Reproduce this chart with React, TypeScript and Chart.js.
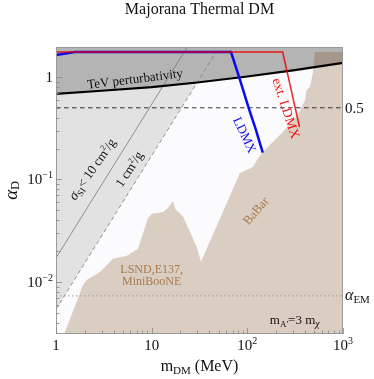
import React, { useEffect, useRef } from "react";
import { Chart, registerables } from "chart.js";
Chart.register(...registerables);

// ---- axis ranges ----
const xRange = [1, 1000];
const yRange = [0.0031, 1.96];

// ---- tick labels ----
const xTickValues = [1, 10, 100, 1000];
const xTickBase = ["1", "10", "10", "10"];
const xTickExp = ["", "", "2", "3"];
const yTickValues = [1, 0.1, 0.01];
const yTickBase = ["1", "10", "10"];
const yTickExp = ["", "\u22121", "\u22122"];

// ---- TeV perturbativity boundary ----
const tevMass = [1, 3, 10, 30, 100, 300, 1000];
const tevAlpha = [0.683, 0.733, 0.794, 0.883, 1.01, 1.16, 1.37];

// ---- self-interaction lines ----
const sidm10Mass = [1, 25];
const sidm10Alpha = [0.0171, 2.14];
const sidm1Mass = [1, 55];
const sidm1Alpha = [0.0054, 2.2];

// ---- LDMX projections ----
const ldmxMass = [1, 1.58, 67.5, 83.8, 104, 123, 134, 145];
const ldmxAlpha = [1.64, 1.75, 1.75, 0.935, 0.488, 0.304, 0.232, 0.183];
const extMass = [1, 234, 351];
const extAlpha = [1.75, 1.75, 0.325];

// ---- excluded region (LSND, E137, MiniBooNE, BaBar) ----
const exclMass = [1.22, 1.92, 2.11, 2.88, 3.94, 5.52, 7.2, 9.16, 10.1, 13.1, 14.8, 16.7, 17.7, 21.3, 25.2, 29.6, 32.8, 83.8, 114.6, 126, 142, 219, 339, 401, 415, 452, 486, 509, 1000];
const exclAlpha = [0.0031, 0.00935, 0.0105, 0.0125, 0.0168, 0.018, 0.021, 0.0421, 0.0461, 0.0482, 0.0527, 0.0617, 0.0515, 0.0431, 0.0307, 0.0219, 0.0157, 0.1157, 0.1324, 0.155, 0.1815, 0.272, 0.426, 0.597, 0.747, 0.799, 1.12, 1.75, 1.75];

// ---- reference lines ----
const halfAlpha = 0.5;
const alphaEM = 0.0073;

const pts = (xs: number[], ys: number[]) => xs.map((x, i) => ({ x, y: ys[i] }));

const SERIF = '"Liberation Serif", "DejaVu Serif", serif';
type Run = { t: string; s: number; dy?: number; it?: boolean };
const fontOf = (r: Run) => `${r.it ? "italic " : ""}${r.s}px ${SERIF}`;

function drawRuns(
  ctx: CanvasRenderingContext2D,
  runs: Run[],
  x: number,
  y: number,
  align: "left" | "center" | "right",
  color: string,
  angle = 0
) {
  ctx.save();
  ctx.translate(x, y);
  ctx.rotate((angle * Math.PI) / 180);
  let w = 0;
  for (const r of runs) {
    ctx.font = fontOf(r);
    w += ctx.measureText(r.t).width;
  }
  let cx = align === "center" ? -w / 2 : align === "right" ? -w : 0;
  ctx.fillStyle = color;
  ctx.textAlign = "left";
  ctx.textBaseline = "alphabetic";
  for (const r of runs) {
    ctx.font = fontOf(r);
    ctx.fillText(r.t, cx, r.dy || 0);
    cx += ctx.measureText(r.t).width;
  }
  ctx.restore();
}

const bgPlugin = {
  id: "bg",
  beforeDraw(chart: any) {
    const { ctx, chartArea: a } = chart;
    ctx.save();
    ctx.fillStyle = "#ffffff";
    ctx.fillRect(0, 0, chart.width, chart.height);
    ctx.fillStyle = "#fbfbfe";
    ctx.fillRect(a.left, a.top, a.right - a.left, a.bottom - a.top);
    ctx.restore();
  },
};

function rotated(
  ctx: CanvasRenderingContext2D,
  px: number,
  py: number,
  angle: number,
  runs: Run[],
  color: string,
  off = 4.5
) {
  ctx.save();
  ctx.translate(px, py);
  ctx.rotate((angle * Math.PI) / 180);
  drawRuns(ctx, runs, 0, off, "center", color);
  ctx.restore();
}

const decorPlugin = {
  id: "decor",
  afterDraw(chart: any) {
    const { ctx, chartArea: a } = chart;
    const xs = chart.scales.x;
    const ys = chart.scales.y;
    const X = (v: number) => xs.getPixelForValue(v);
    const Y = (v: number) => ys.getPixelForValue(v);

    // frame
    ctx.save();
    ctx.strokeStyle = "#9a9a9a";
    ctx.lineWidth = 1;
    ctx.strokeRect(a.left + 0.5, a.top + 0.5, a.right - a.left - 1, a.bottom - a.top - 1);

    // ticks
    ctx.strokeStyle = "#888";
    ctx.lineWidth = 0.8;
    ctx.beginPath();
    for (let d = -3; d <= 3; d++) {
      for (let k = 1; k <= 9; k++) {
        const v = k * Math.pow(10, d);
        const len = k === 1 ? 6 : 3.5;
        if (v >= xRange[0] && v <= xRange[1]) {
          const px = Math.round(X(v)) + 0.5;
          ctx.moveTo(px, a.bottom);
          ctx.lineTo(px, a.bottom - len);
        }
        if (v >= yRange[0] && v <= yRange[1]) {
          const py = Math.round(Y(v)) + 0.5;
          ctx.moveTo(a.left, py);
          ctx.lineTo(a.left + len, py);
        }
      }
    }
    ctx.stroke();
    ctx.restore();

    const black = "#111";
    // title
    drawRuns(ctx, [{ t: "Majorana Thermal DM", s: 16 }], (a.left + a.right) / 2, 14, "center", black);

    // x tick labels
    xTickValues.forEach((v, i) => {
      const runs: Run[] = [{ t: xTickBase[i], s: 15 }];
      if (xTickExp[i]) runs.push({ t: xTickExp[i], s: 10, dy: -6 });
      drawRuns(ctx, runs, X(v), 350, "center", black);
    });
    // y tick labels
    yTickValues.forEach((v, i) => {
      const runs: Run[] = [{ t: yTickBase[i], s: 15 }];
      if (yTickExp[i]) runs.push({ t: yTickExp[i], s: 10, dy: -6 });
      drawRuns(ctx, runs, a.left - 3, Y(v) + 5, "right", black);
    });

    // axis titles
    drawRuns(
      ctx,
      [
        { t: "m", s: 16 },
        { t: "DM", s: 11, dy: 3 },
        { t: " (MeV)", s: 16 },
      ],
      (a.left + a.right) / 2,
      371,
      "center",
      black
    );
    drawRuns(
      ctx,
      [
        { t: "\u03b1", s: 19, it: true },
        { t: "D", s: 12, dy: 2.5 },
      ],
      16.5,
      (a.top + a.bottom) / 2,
      "center",
      black,
      -90
    );

    // right side labels
    drawRuns(ctx, [{ t: "0.5", s: 15 }], a.right + 2, Y(halfAlpha) + 5, "left", black);
    drawRuns(
      ctx,
      [
        { t: "\u03b1", s: 16, it: true },
        { t: "EM", s: 11, dy: 3 },
      ],
      a.right + 2,
      Y(alphaEM) + 4,
      "left",
      black
    );

    // region labels
    rotated(ctx, X(6.7), Y(0.966), -7, [{ t: "TeV perturbativity", s: 13 }], black);
    rotated(
      ctx,
      X(2.38),
      Y(0.1266),
      -55,
      [
        { t: "\u03c3", s: 14, it: true },
        { t: "SI", s: 9, dy: 3 },
        { t: "< 10 cm", s: 13 },
        { t: "2", s: 8, dy: -5 },
        { t: "/g", s: 13 },
      ],
      black
    );
    rotated(
      ctx,
      X(5.8),
      Y(0.1266),
      -57,
      [
        { t: "1 cm", s: 13 },
        { t: "2", s: 8, dy: -5 },
        { t: "/g", s: 13 },
      ],
      black
    );
    rotated(ctx, X(94.6), Y(0.272), 65, [{ t: "LDMX", s: 13 }], "#1010e8");
    rotated(ctx, X(255), Y(0.495), 72, [{ t: "ext. LDMX", s: 13.5 }], "#f01010");

    const brown = "#a87b4e";
    rotated(ctx, X(123), Y(0.0493), -49, [{ t: "BaBar", s: 12.5 }], brown, 4);
    drawRuns(ctx, [{ t: "LSND,E137,", s: 12 }], X(10), Y(0.01324) + 4, "center", brown);
    drawRuns(ctx, [{ t: "MiniBooNE", s: 12 }], X(10), Y(0.0102) + 4, "center", brown);

    drawRuns(
      ctx,
      [
        { t: "m", s: 13 },
        { t: "A'", s: 9, dy: 3 },
        { t: "=3 m", s: 13 },
        { t: "\u03c7", s: 10, dy: 3, it: true },
      ],
      X(172),
      Y(0.00426) + 4.5,
      "left",
      black
    );
  },
};

export default function App() {
  const ref = useRef<HTMLCanvasElement>(null);
  useEffect(() => {
    const chart = new Chart(ref.current as HTMLCanvasElement, {
      type: "line",
      data: {
        datasets: [
          {
            label: "sidm fill",
            data: pts(sidm1Mass, sidm1Alpha),
            borderWidth: 0,
            backgroundColor: "#e2e2e2",
            fill: "end",
            order: 10,
            clip: 0,
          } as any,
          {
            label: "tev fill",
            data: pts(tevMass, tevAlpha),
            borderWidth: 0,
            backgroundColor: "#b4b4b4",
            fill: "end",
            order: 9,
            clip: 0,
          } as any,
          {
            label: "excluded",
            data: pts(exclMass, exclAlpha),
            borderWidth: 0,
            backgroundColor: "rgba(121,69,14,0.255)",
            fill: "start",
            order: 8,
            clip: 0,
          } as any,
          {
            label: "sidm10",
            data: pts(sidm10Mass, sidm10Alpha),
            borderColor: "#7a7a7a",
            borderWidth: 0.8,
            fill: false,
            order: 7,
            clip: 0,
          } as any,
          {
            label: "sidm1",
            data: pts(sidm1Mass, sidm1Alpha),
            borderColor: "#7a7a7a",
            borderWidth: 0.8,
            borderDash: [4, 3],
            fill: false,
            order: 7,
            clip: 0,
          } as any,
          {
            label: "tev",
            data: pts(tevMass, tevAlpha),
            borderColor: "#000",
            borderWidth: 2.2,
            fill: false,
            order: 6,
            clip: 0,
          } as any,
          {
            label: "half",
            data: pts(xRange, [halfAlpha, halfAlpha]),
            borderColor: "#333",
            borderWidth: 1,
            borderDash: [4.5, 3.5],
            fill: false,
            order: 5,
            clip: 0,
          } as any,
          {
            label: "alphaEM",
            data: pts(xRange, [alphaEM, alphaEM]),
            borderColor: "#a0a0a0",
            borderWidth: 1,
            borderDash: [1.5, 2.5],
            fill: false,
            order: 5,
            clip: 0,
          } as any,
          {
            label: "LDMX",
            data: pts(ldmxMass, ldmxAlpha),
            borderColor: "#0a0aee",
            borderWidth: 2.5,
            fill: false,
            order: 4,
            clip: 0,
          } as any,
          {
            label: "ext LDMX",
            data: pts(extMass, extAlpha),
            borderColor: "rgba(235,0,0,0.85)",
            borderWidth: 1.5,
            fill: false,
            order: 3,
            clip: 0,
          } as any,
        ],
      },
      options: {
        animation: false,
        responsive: true,
        maintainAspectRatio: false,
        events: [],
        layout: { padding: { left: 56, right: 31, top: 47, bottom: 45 } },
        elements: { point: { radius: 0 }, line: { tension: 0 } },
        plugins: { legend: { display: false }, tooltip: { enabled: false }, title: { display: false } },
        scales: {
          x: { type: "logarithmic", min: xRange[0], max: xRange[1], display: false },
          y: { type: "logarithmic", min: yRange[0], max: yRange[1], display: false },
        },
      },
      plugins: [bgPlugin, decorPlugin],
    });
    return () => chart.destroy();
  }, []);
  return (
    <div style={{ position: "fixed", left: 0, top: 0, width: 374, height: 379, background: "#fff" }}>
      <canvas ref={ref} />
    </div>
  );
}
